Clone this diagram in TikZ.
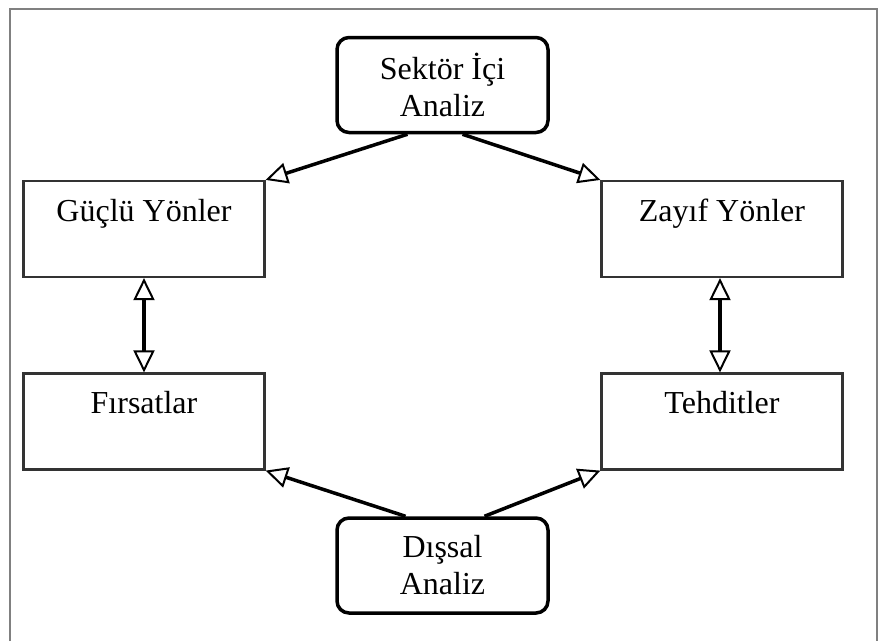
\documentclass[tikz,border=0pt]{standalone}
\usepackage{fontspec}
\setmainfont{Liberation Serif}
\usepackage{tikz}
\usetikzlibrary{arrows.meta,positioning}

\begin{document}
\begin{tikzpicture}[
  x=1pt, y=-1pt,
  font=\fontsize{32}{37}\selectfont,
  analysis/.style={draw, line width=3.5pt, rounded corners=12pt, minimum width=211pt, minimum height=95pt, align=center, inner sep=4pt},
  swot/.style={draw=black!80, line width=2.2pt, minimum width=241pt, minimum height=96pt, text height=30pt, text depth=46pt, inner ysep=10pt, inner xsep=4pt, anchor=center},
  flow/.style={-{Triangle[length=22pt, width=21pt, fill=white, line width=2pt]}, line width=3.5pt},
  pair/.style={{Triangle[length=22pt, width=21pt, fill=white, line width=2pt]}-{Triangle[length=22pt, width=21pt, fill=white, line width=2pt]}, line width=3.5pt},
  frame/.style={draw=gray, line width=1.5pt}
]
\useasboundingbox (0,0) rectangle (882,641);
\draw[frame] (10,641) -- (10,9) -- (877,9) -- (877,641);

\node[analysis] (internal) at (442.5,85) {Sektör İçi\\Analiz};
\node[analysis] (external) at (442.5,565.5) {Dışsal\\Analiz};

\node[swot] (strengths) at (144,229) {Güçlü Yönler};
\node[swot] (weaknesses) at (722,229) {Zayıf Yönler};
\node[swot] (opportunities) at (144,421.5) {Fırsatlar};
\node[swot] (threats) at (722,421.5) {Tehditler};

\draw[flow] ([xshift=-35pt]internal.south) -- (strengths.north east);
\draw[flow] ([xshift=20pt]internal.south) -- (weaknesses.north west);
\draw[flow] ([xshift=-37pt]external.north) -- (opportunities.south east);
\draw[flow] ([xshift=42pt]external.north) -- (threats.south west);

\draw[pair] (strengths.south) -- (opportunities.north);
\draw[pair] ([xshift=-2pt]weaknesses.south) -- ([xshift=-2pt]threats.north);
\end{tikzpicture}
\end{document}
